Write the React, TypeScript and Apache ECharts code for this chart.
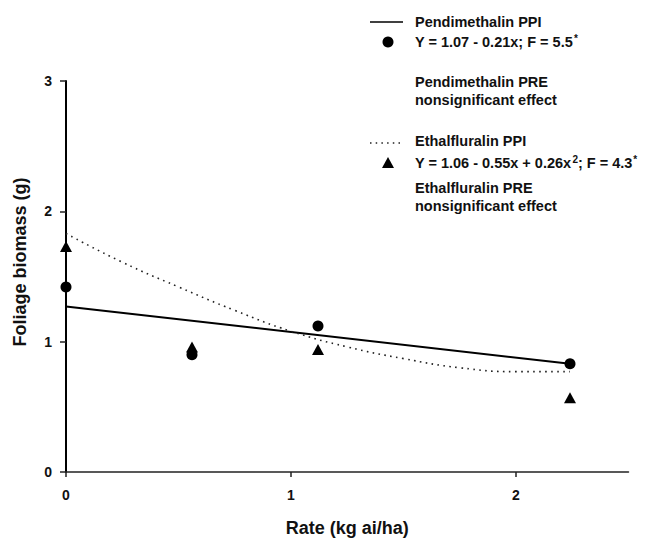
import React, { useEffect, useRef } from "react";
import * as echarts from "echarts";

// Rates (kg ai/ha) and observed foliage biomass (g)
const rates = [0, 0.56, 1.12, 2.24];
const pendimethalinPPI = [1.42, 0.9, 1.12, 0.83];
const ethalfluralinPPI = [1.73, 0.96, 0.94, 0.57];

// Fitted lines
const pendFitX = [0, 2.24];
const pendFitY = [1.27, 0.83];
const ethaFitX = [0, 0.25, 0.5, 0.75, 1.0, 1.25, 1.5, 1.75, 2.0, 2.24];
const ethaFitY = [1.83, 1.61, 1.42, 1.24, 1.08, 0.96, 0.87, 0.8, 0.77, 0.77];

const xTicks = [0, 1, 2];
const yTicks = [0, 1, 2, 3];

const xTitle = "Rate (kg ai/ha)";
const yTitle = "Foliage biomass (g)";

const legendLines = {
  pendName: "Pendimethalin PPI",
  pendEq: "Y = 1.07 - 0.21x; F = 5.5{sup|*}",
  pendPre1: "Pendimethalin PRE",
  pendPre2: "nonsignificant effect",
  ethaName: "Ethalfluralin PPI",
  ethaEq: "Y = 1.06 - 0.55x + 0.26x{sup|2}; F = 4.3{sup|*}",
  ethaPre1: "Ethalfluralin PRE",
  ethaPre2: "nonsignificant effect",
};

const FONT = "'Liberation Sans', Arial, Helvetica, sans-serif";

export default function App() {
  const ref = useRef<HTMLDivElement>(null);
  useEffect(() => {
    document.body.style.margin = "0";
    if (!ref.current) return;
    const chart = echarts.init(ref.current, undefined, { renderer: "svg" });
    const txt = (x: number, y: number, text: string) => ({
      type: "text",
      x,
      y,
      style: {
        text,
        fill: "#111",
        fontSize: 14.5,
        fontWeight: "bold",
        fontFamily: FONT,
        verticalAlign: "middle",
        align: "left",
        rich: {
          sup: {
            fontSize: 10,
            fontWeight: "bold",
            fontFamily: FONT,
            fill: "#111",
            padding: [0, 0, 7, 1],
          },
        },
      },
    });
    chart.setOption({
      animation: false,
      backgroundColor: "#fff",
      grid: {
        left: 66,
        right: 22.5,
        top: 81,
        bottom: 66,
        outerBoundsMode: "none",
      },
      xAxis: {
        type: "value",
        min: 0,
        max: 2.5,
        name: xTitle,
        nameLocation: "middle",
        nameGap: 47,
        nameTextStyle: { fontSize: 18, fontWeight: "bold", fontFamily: FONT, color: "#111" },
        axisLine: { show: true, lineStyle: { color: "#222", width: 1.5 } },
        axisTick: { show: true, length: 5, customValues: xTicks, lineStyle: { color: "#222", width: 1.5 } },
        axisLabel: {
          customValues: xTicks,
          margin: 16,
          fontSize: 14,
          fontWeight: "bold",
          fontFamily: FONT,
          color: "#111",
        },
        splitLine: { show: false },
      },
      yAxis: {
        type: "value",
        min: 0,
        max: 3,
        interval: 1,
        axisLine: { show: true, lineStyle: { color: "#000", width: 2 } },
        axisTick: { show: true, length: 6, lineStyle: { color: "#222", width: 1.5 } },
        axisLabel: {
          customValues: yTicks,
          margin: 14,
          fontSize: 14,
          fontWeight: "bold",
          fontFamily: FONT,
          color: "#111",
        },
        splitLine: { show: false },
      },
      series: [
        {
          name: "Pendimethalin PPI fit",
          type: "line",
          data: pendFitX.map((x, i) => [x, pendFitY[i]]),
          symbol: "none",
          lineStyle: { color: "#000", width: 2 },
          z: 2,
        },
        {
          name: "Ethalfluralin PPI fit",
          type: "line",
          smooth: true,
          data: ethaFitX.map((x, i) => [x, ethaFitY[i]]),
          symbol: "none",
          lineStyle: { color: "#222", width: 1.6, type: [1.6, 4.4] },
          z: 2,
        },
        {
          name: "Pendimethalin PPI",
          type: "scatter",
          data: rates.map((x, i) => [x, pendimethalinPPI[i]]),
          symbol: "circle",
          symbolSize: 11,
          itemStyle: { color: "#000", opacity: 1 },
          z: 3,
        },
        {
          name: "Ethalfluralin PPI",
          type: "scatter",
          data: rates.map((x, i) => [x, ethalfluralinPPI[i]]),
          symbol: "triangle",
          symbolSize: [12, 11],
          itemStyle: { color: "#000", opacity: 1 },
          z: 3,
        },
      ],
      graphic: [
        {
          type: "text",
          x: 20,
          y: 262,
          rotation: Math.PI / 2,
          style: {
            text: yTitle,
            fill: "#111",
            fontSize: 18,
            fontWeight: "bold",
            fontFamily: FONT,
            align: "center",
            verticalAlign: "middle",
          },
        },
        { type: "line", shape: { x1: 370, y1: 22, x2: 403, y2: 22 }, style: { stroke: "#000", lineWidth: 1.5 } },
        txt(415, 22, legendLines.pendName),
        { type: "circle", shape: { cx: 388, cy: 42, r: 5.5 }, style: { fill: "#000" } },
        txt(415, 42, legendLines.pendEq),
        txt(415, 82, legendLines.pendPre1),
        txt(415, 100, legendLines.pendPre2),
        {
          type: "line",
          shape: { x1: 370, y1: 143, x2: 403, y2: 143 },
          style: { stroke: "#222", lineWidth: 1.5, lineDash: [1.5, 4.2] },
        },
        txt(415, 141, legendLines.ethaName),
        {
          type: "polygon",
          shape: { points: [[382, 168], [394, 168], [388, 157]] },
          style: { fill: "#000" },
        },
        txt(415, 163, legendLines.ethaEq),
        txt(415, 188, legendLines.ethaPre1),
        txt(415, 206, legendLines.ethaPre2),
      ],
    });
    return () => chart.dispose();
  }, []);
  return (
    <div
      ref={ref}
      style={{ position: "fixed", left: 0, top: 0, width: 651, height: 538, background: "#fff" }}
    />
  );
}
